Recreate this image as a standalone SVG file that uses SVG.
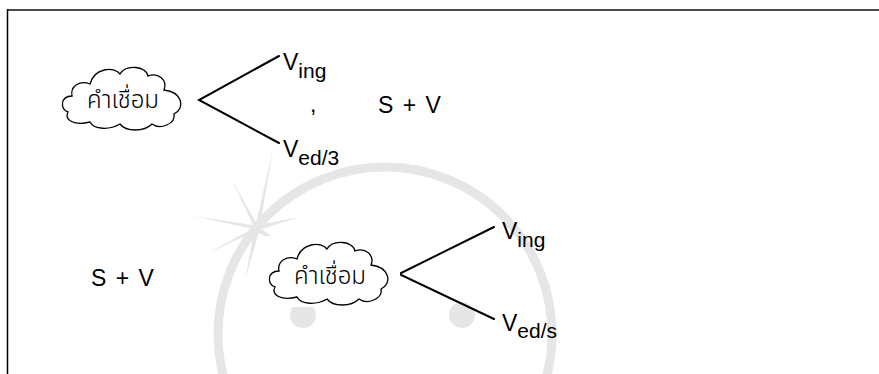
<svg xmlns="http://www.w3.org/2000/svg" width="879" height="374" viewBox="0 0 879 374">
  <style>
    .lat { font-family: "Liberation Sans", Arial, sans-serif; font-size: 23px; fill: #000; }
    .sub { font-size: 21px; }
    .thai { font-family: "Noto Sans Thai", "Noto Sans", "DejaVu Sans", sans-serif; font-size: 24px; font-weight: 300; fill: #000; text-anchor: middle; }
    .line { stroke: #000; stroke-width: 2; fill: none; stroke-linecap: round; }
    .cloud { fill: #fff; stroke: #000; stroke-width: 1.3; }
    .wm { fill: #e6e6e6; }
  </style>
  <defs>
    <path id="cloudShape" d="M 8,50 C 0,48 0,34 12,34 C 10,24 20,18 30,22 C 34,6 54,4 60,12 C 66,2 86,4 88,14 C 98,10 108,18 104,28 C 122,30 126,46 114,52 C 116,62 100,68 92,62 C 84,70 66,70 60,62 C 50,68 34,68 30,60 C 14,64 4,58 8,50 Z"/>
  </defs>
  <rect width="879" height="374" fill="#fff"/>
  <g id="watermark">
    <circle cx="385" cy="334" r="167" fill="none" stroke="#e6e6e6" stroke-width="9"/>
    <circle class="wm" cx="303" cy="315" r="13"/>
    <circle class="wm" cx="462" cy="315" r="13"/>
    <polygon class="wm" points="232,180 256.3,223.1 273,148 260.4,224.4 300,217 261.9,228.9 290,250 258.8,232.7 245,280 253.9,231.9 208,253 252.1,228.7 193,216 253,225"/>
  </g>
  <g id="frame">
    <line x1="7" y1="10" x2="879" y2="10" stroke="#4a4a4a" stroke-width="2"/>
    <line x1="7.5" y1="9" x2="7.5" y2="374" stroke="#000" stroke-width="1.5"/>
  </g>
  <g id="connectors">
    <polyline class="line" points="279,56 199,100 279,143"/>
    <polyline class="line" points="494,227 399,274 494,319"/>
  </g>
  <g id="cloud-top">
    <use href="#cloudShape" class="cloud" transform="translate(60,62)"/>
    <text class="thai" x="123" y="108">คำเชื่อม</text>
  </g>
  <g id="v-ing-top">
    <text class="lat" x="283" y="70">V<tspan class="sub" dy="8">ing</tspan></text>
  </g>
  <g id="v-ed3-top">
    <text class="lat" x="283" y="157">V<tspan class="sub" dy="8">ed/3</tspan></text>
  </g>
  <g id="comma">
    <text class="lat" x="310" y="112">,</text>
  </g>
  <g id="sv-top">
    <text class="lat" x="378" y="113" word-spacing="3">S + V</text>
  </g>
  <g id="sv-bottom">
    <text class="lat" x="91" y="286" word-spacing="3">S + V</text>
  </g>
  <g id="cloud-bottom">
    <rect x="266" y="236" width="134" height="71" fill="#fff"/>
    <use href="#cloudShape" class="cloud" transform="translate(267,237)"/>
    <text class="thai" x="330" y="284">คำเชื่อม</text>
  </g>
  <g id="v-ing-bottom">
    <text class="lat" x="502" y="239">V<tspan class="sub" dy="8">ing</tspan></text>
  </g>
  <g id="v-eds-bottom">
    <text class="lat" x="502" y="331">V<tspan class="sub" dy="7">ed/s</tspan></text>
  </g>
</svg>
